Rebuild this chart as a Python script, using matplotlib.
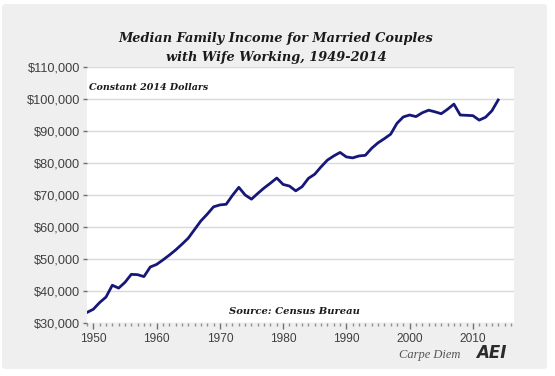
import matplotlib
matplotlib.use("Agg")
import matplotlib.pyplot as plt
from matplotlib.patches import FancyBboxPatch
from matplotlib.ticker import MultipleLocator, FuncFormatter

years = list(range(1949, 2015))
income = [33300, 34300, 36400, 38100, 41800, 40900, 42700, 45200, 45100, 44500,
          47500, 48300, 49700, 51200, 52800, 54600, 56500, 59200, 61900, 64000,
          66300, 66900, 67100, 69900, 72400, 70000, 68700, 70500, 72200, 73700,
          75300, 73300, 72800, 71300, 72600, 75200, 76500, 78800, 80900, 82200,
          83300, 81900, 81600, 82200, 82400, 84600, 86300, 87600, 89000, 92400,
          94400, 95000, 94500, 95700, 96500, 96000, 95400, 96800, 98400, 95000,
          94900, 94800, 93400, 94300, 96300, 99700]
title = "Median Family Income for Married Couples\nwith Wife Working, 1949-2014"
subtitle = "Constant 2014 Dollars"
source = "Source: Census Bureau"
xticks = [1950, 1960, 1970, 1980, 1990, 2000, 2010]
yticks = list(range(30000, 110001, 10000))

W, H = 555, 376
fig = plt.figure(figsize=(W / 100, H / 100), dpi=100, facecolor="white")

bg = FancyBboxPatch((2 / W, 7 / H), 545 / W, 365 / H,
                    boxstyle="round,pad=0,rounding_size=0.008",
                    transform=fig.transFigure, facecolor="#efefef",
                    edgecolor="none", zorder=-10)
fig.patches.append(bg)

ax = fig.add_axes([87 / W, (H - 323) / H, 427 / W, 256 / H])
ax.set_zorder(1)
ax.set_facecolor("white")
ax.plot(years, income, color="#17177a", lw=2.0, solid_joinstyle="round", zorder=3)

ax.set_xlim(1949, 2016.5)
ax.set_ylim(30000, 110000)
ax.set_yticks(yticks)
ax.set_xticks(xticks)
ax.xaxis.set_minor_locator(MultipleLocator(1))
ax.yaxis.set_major_formatter(FuncFormatter(lambda v, p: "${:,.0f}".format(v)))
for s in ax.spines.values():
    s.set_visible(False)
ax.grid(axis="y", color="#d9d9d9", lw=1.0, zorder=1)
ax.set_axisbelow(True)
ax.tick_params(axis="y", direction="out", length=3, width=1, color="#707070",
               labelsize=9.2, labelcolor="#404040", pad=2)
ax.tick_params(axis="x", which="major", direction="out", length=4, width=1,
               color="#707070", labelsize=8.6, labelcolor="#404040", pad=3)
ax.tick_params(axis="x", which="minor", direction="out", length=2, width=1,
               color="#909090")
for lab in ax.get_xticklabels() + ax.get_yticklabels():
    lab.set_family("Liberation Sans")

fig.text(276 / W, 1 - 48 / H, title, ha="center", va="center",
         family="DejaVu Serif", style="italic", weight="bold", fontsize=9.3,
         color="#1a1a1a", linespacing=1.6)
fig.text(89 / W, 1 - 88 / H, subtitle, ha="left",
         va="center", family="DejaVu Serif", style="italic", weight="bold",
         fontsize=6.8, color="#1a1a1a", zorder=5)
fig.text(294 / W, 1 - 311 / H, source, ha="center",
         va="center", family="DejaVu Serif", style="italic", weight="bold",
         fontsize=7.2, color="#1a1a1a", zorder=5)
fig.text(460 / W, 1 - 355 / H, "Carpe Diem", ha="right", va="center",
         family="Liberation Serif", style="italic", fontsize=9.0,
         color="#555555")
fig.text(491 / W, 1 - 353 / H, "AEI", ha="center", va="center",
         family="DejaVu Sans", style="italic", weight="bold", fontsize=12,
         color="#2b2b2b")

fig.savefig("out.png", dpi=100, facecolor=fig.get_facecolor())
